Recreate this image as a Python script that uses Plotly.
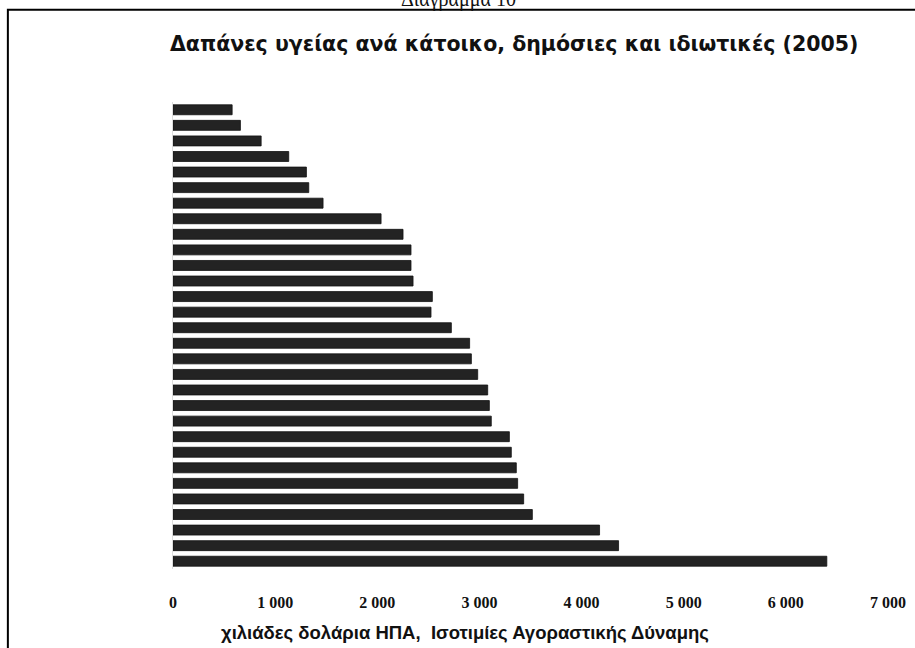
import plotly.graph_objects as go

# Bars listed top to bottom as they appear in the chart
categories = [f"c{i}" for i in range(1, 31)]
values = [579, 660, 863, 1133, 1306, 1329, 1469, 2037, 2252, 2330,
          2330, 2350, 2539, 2526, 2725, 2904, 2921, 2983, 3081, 3097,
          3116, 3293, 3312, 3361, 3374, 3433, 3518, 4176, 4362, 6401]
tick_vals = [0, 1000, 2000, 3000, 4000, 5000, 6000, 7000]
tick_text = ["0", "1 000", "2 000", "3 000", "4 000", "5 000", "6 000", "7 000"]

title_text = "Δαπάνες υγείας ανά κάτοικο, δημόσιες και ιδιωτικές (2005)"
x_title = "χιλιάδες δολάρια ΗΠΑ,  Ισοτιμίες Αγοραστικής Δύναμης"
caption = "Διάγραμμα 10"

W, H = 915, 648
L, R, T, B = 172.7, 888.0, 102.2, 569.3
pw, ph = R - L, B - T


def px(x):
    return (x - L) / pw


def py(y):
    return (B - y) / ph


fig = go.Figure(go.Bar(
    x=values, y=categories, orientation="h",
    marker=dict(color="#232323", line=dict(color="#111111", width=0.8)),
))

fig.update_layout(
    width=W, height=H,
    margin=dict(l=L, r=W - R, t=T, b=H - B, autoexpand=False),
    paper_bgcolor="white", plot_bgcolor="white",
    showlegend=False, bargap=0.36,
    xaxis=dict(range=[0, 7000], tickvals=tick_vals, ticktext=tick_text,
               showgrid=False, zeroline=False, showline=False, ticks="",
               ticklabelstandoff=22,
               tickfont=dict(family="Liberation Serif", size=16, color="#111",
                             weight="bold")),
    yaxis=dict(autorange="reversed", showticklabels=False, showgrid=False,
               zeroline=False, showline=True, linecolor="#dddddd", linewidth=1,
               ticks=""),
    shapes=[dict(type="rect", xref="paper", yref="paper",
                 x0=px(7.5), x1=px(930), y0=py(700), y1=py(10),
                 line=dict(color="black", width=2), fillcolor="rgba(0,0,0,0)",
                 layer="below")],
    annotations=[
        dict(text=f"<b>{title_text}</b>", xref="paper", yref="paper",
             x=px(514), y=py(44), xanchor="center", yanchor="middle",
             showarrow=False,
             font=dict(family="DejaVu Sans", size=20.5, color="#111")),
        dict(text=f"<b>{x_title}</b>", xref="paper", yref="paper",
             x=px(465), y=py(633), xanchor="center", yanchor="middle",
             showarrow=False,
             font=dict(family="Liberation Sans", size=18.5, color="#111")),
        dict(text=caption, xref="paper", yref="paper",
             x=px(458), y=py(0), xanchor="center", yanchor="middle",
             showarrow=False,
             font=dict(family="Liberation Serif", size=20, color="#111")),
    ],
)

fig.write_html("out.html", config={"displayModeBar": False},
               post_script="document.body.style.margin='0';")
